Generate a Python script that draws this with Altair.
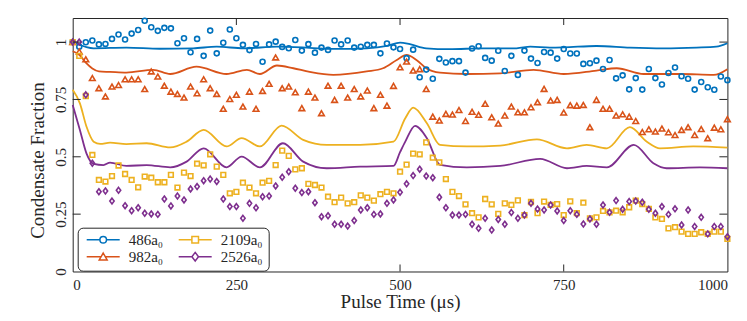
import altair as alt
import pandas as pd

# ---------------- data ----------------
pulse_time_us = list(range(0, 1001, 10))

frac_486 = [1.000, 0.980, 0.999, 1.007, 0.990, 0.992, 1.014, 1.033, 1.011, 1.037,
            1.053, 1.093, 1.065, 1.049, 1.062, 1.060, 0.995, 1.017, 0.956, 1.014,
            0.940, 1.050, 0.951, 0.997, 1.055, 1.017, 0.988, 0.965, 0.992, 0.914,
            0.990, 1.002, 0.979, 0.973, 1.009, 0.963, 0.991, 0.954, 0.976, 0.966,
            1.007, 0.990, 1.007, 0.976, 0.980, 0.988, 0.988, 0.951, 0.994, 0.977,
            0.970, 0.930, 0.967, 0.847, 0.880, 0.840, 0.927, 0.911, 0.917, 0.917,
            0.867, 0.972, 0.982, 0.931, 0.919, 0.962, 0.874, 0.940, 0.857, 0.963,
            0.928, 0.909, 0.957, 0.954, 0.928, 0.970, 0.950, 0.950, 0.905, 0.908,
            0.919, 0.883, 0.922, 0.842, 0.855, 0.794, 0.843, 0.793, 0.883, 0.843,
            0.815, 0.865, 0.889, 0.851, 0.840, 0.793, 0.826, 0.803, 0.792, 0.850,
            0.834]

frac_982 = [1.000, 0.959, 0.925, 0.843, 0.799, 0.763, 0.806, 0.813, 0.838, 0.838,
            0.838, 0.795, 0.872, 0.850, 0.810, 0.784, 0.774, 0.758, 0.806, 0.777,
            0.838, 0.799, 0.774, 0.709, 0.752, 0.770, 0.719, 0.784, 0.709, 0.787,
            0.818, 0.933, 0.799, 0.806, 0.781, 0.712, 0.784, 0.758, 0.690, 0.810,
            0.748, 0.810, 0.758, 0.795, 0.763, 0.789, 0.712, 0.770, 0.723, 0.809,
            0.890, 0.915, 0.876, 0.882, 0.795, 0.675, 0.658, 0.687, 0.684, 0.704,
            0.656, 0.696, 0.683, 0.731, 0.672, 0.645, 0.680, 0.719, 0.694, 0.694,
            0.716, 0.738, 0.796, 0.745, 0.748, 0.693, 0.725, 0.723, 0.726, 0.629,
            0.748, 0.709, 0.709, 0.680, 0.685, 0.675, 0.656, 0.608, 0.620, 0.610,
            0.623, 0.607, 0.595, 0.617, 0.629, 0.595, 0.621, 0.581, 0.627, 0.620,
            0.664]

frac_2109 = [1.000, 0.940, 0.765, 0.508, 0.399, 0.392, 0.416, 0.462, 0.425, 0.399,
             0.367, 0.414, 0.409, 0.389, 0.389, 0.421, 0.366, 0.431, 0.416, 0.470,
             0.463, 0.511, 0.457, 0.421, 0.341, 0.347, 0.387, 0.366, 0.341, 0.387,
             0.395, 0.464, 0.527, 0.504, 0.445, 0.450, 0.382, 0.377, 0.366, 0.326,
             0.302, 0.322, 0.297, 0.302, 0.332, 0.322, 0.309, 0.337, 0.347, 0.341,
             0.435, 0.466, 0.514, 0.511, 0.563, 0.496, 0.476, 0.403, 0.347, 0.329,
             0.293, 0.254, 0.236, 0.316, 0.293, 0.251, 0.297, 0.290, 0.310, 0.246,
             0.303, 0.254, 0.305, 0.290, 0.294, 0.246, 0.306, 0.254, 0.300, 0.232,
             0.236, 0.264, 0.258, 0.265, 0.258, 0.280, 0.309, 0.294, 0.273, 0.236,
             0.229, 0.188, 0.193, 0.174, 0.164, 0.164, 0.171, 0.164, 0.174, 0.174,
             0.142]

frac_2526 = [1.000, 1.000, 0.770, 0.472, 0.348, 0.351, 0.307, 0.354, 0.287, 0.265,
             0.278, 0.254, 0.251, 0.249, 0.316, 0.286, 0.329, 0.312, 0.360, 0.370,
             0.396, 0.403, 0.392, 0.316, 0.283, 0.283, 0.232, 0.297, 0.278, 0.326,
             0.329, 0.373, 0.411, 0.435, 0.363, 0.344, 0.348, 0.300, 0.239, 0.243,
             0.206, 0.206, 0.198, 0.222, 0.268, 0.278, 0.249, 0.251, 0.297, 0.312,
             0.345, 0.382, 0.418, 0.446, 0.416, 0.409, 0.324, 0.278, 0.246, 0.246,
             0.249, 0.206, 0.188, 0.232, 0.181, 0.227, 0.206, 0.257, 0.232, 0.246,
             0.297, 0.272, 0.268, 0.290, 0.264, 0.222, 0.265, 0.249, 0.207, 0.229,
             0.206, 0.290, 0.258, 0.309, 0.271, 0.305, 0.307, 0.302, 0.271, 0.254,
             0.283, 0.249, 0.273, 0.203, 0.268, 0.196, 0.236, 0.164, 0.196, 0.196,
             0.152]

# theory curves (time, fraction)
theory_t_486 = [0, 11, 21, 32, 82, 133, 184, 220, 261, 312, 362, 398, 449, 480, 500,
                515, 540, 575, 627, 678, 699, 729, 750, 800, 851, 902, 953, 983, 1000]
theory_486 = [1.000, 0.988, 0.978, 0.973, 0.976, 0.971, 0.973, 0.980, 0.973, 0.980,
              0.975, 0.970, 0.973, 0.983, 0.998, 0.991, 0.973, 0.969, 0.973, 0.973,
              0.980, 0.976, 0.977, 0.983, 0.976, 0.973, 0.976, 0.980, 0.995]

theory_t_982 = [0, 10, 20, 30, 40, 57, 82, 123, 149, 189, 235, 266, 286, 312, 337, 362,
                398, 449, 474, 495, 510, 525, 540, 561, 602, 653, 704, 750, 800, 831,
                872, 928, 979, 1000]
theory_982 = [0.960, 0.945, 0.910, 0.885, 0.872, 0.870, 0.867, 0.879, 0.861, 0.893,
              0.861, 0.879, 0.861, 0.898, 0.886, 0.870, 0.857, 0.872, 0.886, 0.922,
              0.944, 0.922, 0.886, 0.867, 0.861, 0.864, 0.879, 0.861, 0.876, 0.886,
              0.861, 0.861, 0.857, 0.882]

theory_t_2109 = [0, 11, 21, 32, 42, 57, 82, 113, 149, 174, 200, 235, 258, 286, 319, 352,
                 388, 439, 490, 508, 520, 541, 561, 602, 653, 709, 755, 785, 816, 851,
                 877, 897, 948, 1000]
theory_2109 = [0.792, 0.733, 0.632, 0.566, 0.556, 0.562, 0.555, 0.559, 0.541, 0.566,
               0.617, 0.545, 0.581, 0.545, 0.636, 0.574, 0.552, 0.552, 0.566, 0.668,
               0.714, 0.646, 0.552, 0.545, 0.549, 0.576, 0.537, 0.552, 0.537, 0.629,
               0.566, 0.537, 0.545, 0.540]

theory_t_2526 = [0, 11, 21, 32, 47, 57, 82, 113, 149, 174, 200, 235, 258, 286, 321, 352,
                 388, 439, 490, 500, 508, 523, 541, 561, 602, 653, 714, 755, 785, 816,
                 857, 887, 907, 958, 1000]
theory_2526 = [0.726, 0.617, 0.515, 0.469, 0.464, 0.475, 0.460, 0.464, 0.454, 0.479,
               0.537, 0.454, 0.501, 0.454, 0.559, 0.479, 0.450, 0.457, 0.460, 0.520,
               0.566, 0.635, 0.581, 0.465, 0.454, 0.460, 0.491, 0.450, 0.460, 0.454,
               0.552, 0.472, 0.450, 0.454, 0.450]

series_names = ["486a₀", "982a₀", "2109a₀", "2526a₀"]
series_colors = ["#0072BD", "#D95319", "#EDB120", "#7E2F8E"]

x_tick_values = [0, 250, 500, 750, 1000]
y_tick_values = [0, 0.25, 0.5, 0.75, 1]

# ---------------- tables ----------------
point_values = [frac_486, frac_982, frac_2109, frac_2526]
line_values = [(theory_t_486, theory_486), (theory_t_982, theory_982),
               (theory_t_2109, theory_2109), (theory_t_2526, theory_2526)]

lines_df = pd.concat([pd.DataFrame({"t": tv[0], "frac": tv[1], "series": k})
                      for k, tv in zip(series_names, line_values)], ignore_index=True)
xtick_df = pd.DataFrame({"t": x_tick_values[1:-1]})
ytick_df = pd.DataFrame({"frac": y_tick_values[1:]})

# ---------------- styling ----------------
FONT = "Liberation Serif"
TXT = "#262626"
W, H = 654.7, 253.5

xs = alt.Scale(domain=[0, 1000], nice=False, zero=False)
ys = alt.Scale(domain=[0, 1.105], nice=False, zero=False)
color_scale = alt.Scale(domain=series_names, range=series_colors)

point_shapes = ["circle", "triangle-up", "square", "M0,-1L0.75,0L0,1L-0.75,0Z"]
point_sizes = [25, 32, 22, 34]

P_CIRCLE = "M-1,0H-0.2M0.2,0H1M0.2,0A0.2,0.2,0,1,1,-0.2,0A0.2,0.2,0,1,1,0.2,0Z"
P_TRI = "M-1,0H-0.126M0.126,0H1M0,-0.22L0.24,0.2L-0.24,0.2Z"
P_SQ = "M-1,0H-0.2M0.2,0H1M-0.2,-0.2H0.2V0.2H-0.2Z"
P_DIA = "M-1,0H-0.2M0.2,0H1M0,-0.26L0.2,0L0,0.26L-0.2,0Z"

symbol_expr = (
    f"datum.value === '486a₀' ? '{P_CIRCLE}' : "
    f"datum.value === '2109a₀' ? '{P_SQ}' : "
    f"datum.value === '982a₀' ? '{P_TRI}' : '{P_DIA}'"
)

legend = alt.Legend(
    title=None, orient="none", legendX=5, legendY=209.7, columns=2,
    padding=6, cornerRadius=5, strokeColor=TXT, fillColor="white",
    labelFont=FONT, labelFontSize=15, labelColor=TXT, labelOffset=8,
    symbolType=alt.ExprRef(symbol_expr), symbolFillColor="white",
    symbolSize=1089, symbolStrokeWidth=1.5, symbolOffset=2,
    clipHeight=12, rowPadding=2, columnPadding=12,
)

x_axis = alt.Axis(values=x_tick_values, format="d", title="Pulse Time (μs)", grid=False,
                  ticks=False, tickSize=0, domain=False, labelFlush=True, labelPadding=6,
                  labelFont=FONT, labelFontSize=15, labelColor=TXT,
                  titleFont=FONT, titleFontSize=19, titleFontWeight="normal", titleColor=TXT,
                  titleBaseline="alphabetic", titleY=36.5)
y_axis = alt.Axis(values=y_tick_values, labelExpr="'' + datum.value", title="Condensate Fraction",
                  grid=False, ticks=False, tickSize=0, domain=False, labelAngle=270,
                  labelAlign="center", labelBaseline="alphabetic", labelPadding=7,
                  labelFont=FONT, labelFontSize=15, labelColor=TXT,
                  titleFont=FONT, titleFontSize=19, titleFontWeight="normal", titleColor=TXT,
                  titleAngle=270, titleAlign="center", titleBaseline="alphabetic",
                  titleX=-29.5, titleY=142)

X = alt.X("t:Q", scale=xs, axis=x_axis)
Y = alt.Y("frac:Q", scale=ys, axis=y_axis)

lines = alt.Chart(lines_df).mark_line(strokeWidth=1.8, interpolate="monotone").encode(
    x=X, y=Y,
    color=alt.Color("series:N", scale=color_scale, legend=legend),
)

point_layers = []
for name, vals, col, shp, sz in zip(series_names, point_values, series_colors,
                                    point_shapes, point_sizes):
    df = pd.DataFrame({"t": pulse_time_us, "frac": vals})
    point_layers.append(
        alt.Chart(df).mark_point(filled=False, strokeWidth=1.6, opacity=1, shape=shp,
                                 size=sz, color=col).encode(x=X, y=Y)
    )

tick_x_bottom = alt.Chart(xtick_df).mark_rule(color=TXT, strokeWidth=1).encode(
    x=X, y=alt.value(H), y2=alt.value(H - 7))
tick_x_top = alt.Chart(xtick_df).mark_rule(color=TXT, strokeWidth=1).encode(
    x=X, y=alt.value(0), y2=alt.value(7))
tick_y_left = alt.Chart(ytick_df).mark_rule(color=TXT, strokeWidth=1).encode(
    y=Y, x=alt.value(0), x2=alt.value(8))
tick_y_right = alt.Chart(ytick_df).mark_rule(color=TXT, strokeWidth=1).encode(
    y=Y, x=alt.value(W - 8), x2=alt.value(W))

chart = alt.layer(lines, *point_layers, tick_x_bottom, tick_x_top, tick_y_left,
                  tick_y_right).properties(
    width=W, height=H,
    padding={"left": 64.7, "top": 10, "right": 11, "bottom": 40},
    autosize=alt.AutoSizeParams(type="none"),
    background="white",
).configure_view(stroke=TXT, strokeWidth=1)

chart.save("out.html", embed_options={"renderer": "svg", "actions": False})
